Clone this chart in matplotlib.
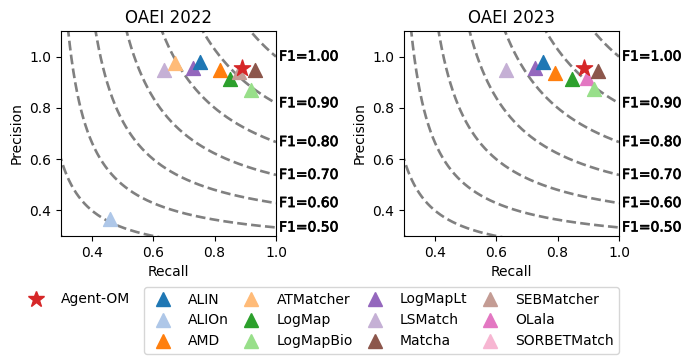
import numpy as np
import matplotlib
matplotlib.use("Agg")
import matplotlib.pyplot as plt
import matplotlib.patheffects as pe
from matplotlib.lines import Line2D

# ---- data ----
systems = ["ALIN", "ALIOn", "AMD", "ATMatcher", "LogMap", "LogMapBio",
           "LogMapLt", "LSMatch", "Matcha", "SEBMatcher", "OLala", "SORBETMatch"]
colors = ["#1f77b4", "#aec7e8", "#ff7f0e", "#ffbb78", "#2ca02c", "#98df8a",
          "#9467bd", "#c5b0d5", "#8c564b", "#c49c94", "#e377c2", "#f7b6d2"]

# OAEI 2022 (recall, precision)
names_2022 = ["LSMatch", "ATMatcher", "LogMapLt", "ALIN", "AMD", "LogMap",
              "SEBMatcher", "Matcha", "LogMapBio", "ALIOn"]
recall_2022 = [0.636, 0.671, 0.731, 0.754, 0.819, 0.849, 0.880, 0.932, 0.919, 0.460]
precision_2022 = [0.948, 0.974, 0.957, 0.980, 0.948, 0.913, 0.941, 0.948, 0.870, 0.365]
agent_2022 = (0.888, 0.957)

# OAEI 2023 (recall, precision)
names_2023 = ["LSMatch", "LogMapLt", "ALIN", "AMD", "LogMap", "OLala",
              "Matcha", "LogMapBio"]
recall_2023 = [0.632, 0.727, 0.754, 0.792, 0.848, 0.895, 0.930, 0.917]
precision_2023 = [0.948, 0.957, 0.980, 0.935, 0.913, 0.915, 0.945, 0.872]
agent_2023 = (0.887, 0.957)

f1_levels = [0.1, 0.2, 0.3, 0.4, 0.5, 0.6, 0.7, 0.8, 0.9, 1.0]
f1_labels = [0.5, 0.6, 0.7, 0.8, 0.9, 1.0]

color_of = dict(zip(systems, colors))

fig = plt.figure(figsize=(6.9, 3.63), dpi=100)
ax1 = fig.add_axes([61/690, 1-236/363, 215/690, 205/363])
ax2 = fig.add_axes([404/690, 1-236/363, 215/690, 205/363])


def draw(ax, title, names, rec, prec, agent):
    for f in f1_levels:
        r = np.linspace(f/2 + 1e-4, 1.0, 600)
        p = f * r / (2 * r - f)
        m = p <= 2
        ax.plot(r[m], p[m], color="gray", linestyle="--", linewidth=1.9, zorder=1)
    for f in f1_labels:
        ax.text(1.01, f / (2 - f), "F1=%.2f" % f, fontsize=10,
                va="center", ha="left", transform=ax.transData, clip_on=False,
                path_effects=[pe.withStroke(linewidth=0.5, foreground="black")])
    for n, r, p in zip(names, rec, prec):
        ax.scatter([r], [p], marker="^", s=100, color=color_of[n], zorder=3)
    ax.scatter([agent[0]], [agent[1]], marker="*", s=150, color="#d62728", zorder=4)
    ax.set_xlim(0.3, 1.0)
    ax.set_ylim(0.3, 1.1)
    ax.set_xticks([0.4, 0.6, 0.8, 1.0])
    ax.set_yticks([0.4, 0.6, 0.8, 1.0])
    ax.set_xlabel("Recall")
    ax.set_ylabel("Precision")
    ax.set_title(title)


draw(ax1, "OAEI 2022", names_2022, recall_2022, precision_2022, agent_2022)
draw(ax2, "OAEI 2023", names_2023, recall_2023, precision_2023, agent_2023)

star_handle = [Line2D([], [], marker="*", color="#d62728", linestyle="None",
                      markersize=12, label="Agent-OM")]
fig.legend(handles=star_handle, loc="upper left", bbox_to_anchor=(10/690, 1-280/363),
           frameon=False, fontsize=10)

tri_handles = [Line2D([], [], marker="^", color=c, linestyle="None",
                      markersize=10.5, label=n) for n, c in zip(systems, colors)]
fig.legend(handles=tri_handles, loc="upper left", bbox_to_anchor=(137/690, 1-280/363),
           ncol=4, fontsize=10, frameon=True, columnspacing=0.6)

fig.savefig("out.png", dpi=100)
